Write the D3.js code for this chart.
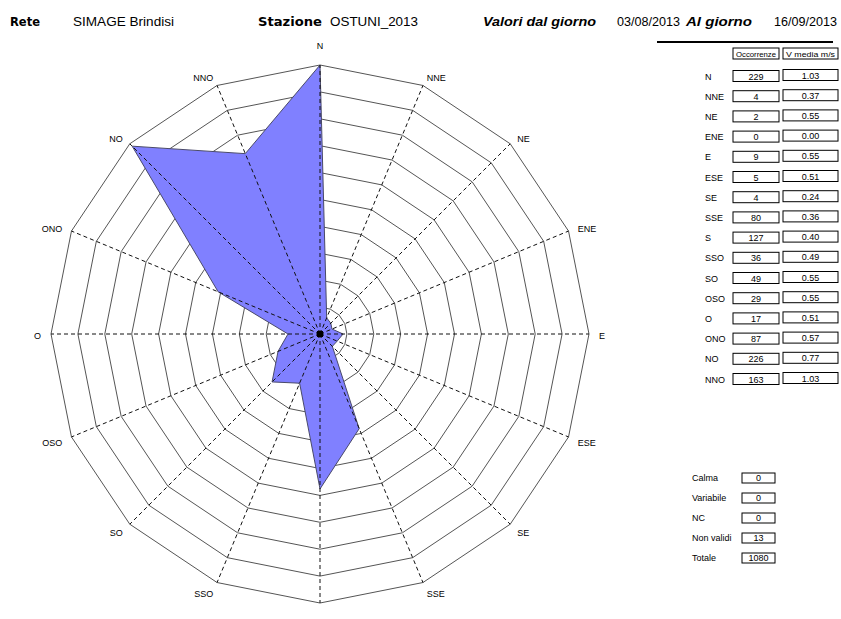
<!DOCTYPE html>
<html>
<head>
<meta charset="utf-8">
<script src="https://cdn.jsdelivr.net/npm/d3@7"></script>
<style>
body { margin: 0; background: #fff; }
svg { font-family: "Liberation Sans", Arial, sans-serif; }
</style>
</head>
<body>
<svg id="chart" width="841" height="619"></svg>
<script>
// data
const directions = ['N', 'NNE', 'NE', 'ENE', 'E', 'ESE', 'SE', 'SSE', 'S', 'SSO', 'SO', 'OSO', 'O', 'ONO', 'NO', 'NNO'];
const occorrenze = [229, 4, 2, 0, 9, 5, 4, 80, 127, 36, 49, 29, 17, 87, 226, 163];
const velocita = ['1.03', '0.37', '0.55', '0.00', '0.55', '0.51', '0.24', '0.36', '0.40', '0.49', '0.55', '0.55', '0.51', '0.57', '0.77', '1.03'];
const summaryLabels = ['Calma', 'Variabile', 'NC', 'Non validi', 'Totale'];
const summaryValues = [0, 0, 0, 13, 1080];
const ringCount = 10;

const svg = d3.select('#chart');
const cx = 320, cy = 334, R = 269;

/* HEADER */
// [text, x, width, style]
const headerItems = [
	['Rete', 10, 30, 'b'],
	['SIMAGE Brindisi', 73, 101, 'r'],
	['Stazione', 258, 64, 'b'],
	['OSTUNI_2013', 330, 88, 'r'],
	['Valori dal giorno', 483, 113, 'bi'],
	['03/08/2013', 617, 63, 'r'],
	['Al giorno', 686, 66, 'bi'],
	['16/09/2013', 774, 63, 'r']
];
svg.append('g').selectAll('text')
	.data(headerItems)
	.enter()
	.append('text')
	.attr('x', d => d[1])
	.attr('y', 26)
	.attr('textLength', d => d[2])
	.attr('lengthAdjust', 'spacingAndGlyphs')
	.attr('font-size', d => d[3] === 'b' ? 12.5 : 12.5)
	.attr('font-family', d => d[3] === 'b' ? '"DejaVu Sans", sans-serif' : null)
	.attr('font-weight', d => d[3] === 'r' ? 'normal' : 'bold')
	.attr('font-style', d => d[3] === 'bi' ? 'italic' : 'normal')
	.text(d => d[0]);
svg.append('line').attr('x1', 657).attr('x2', 833).attr('y1', 42).attr('y2', 42)
	.attr('stroke', '#000').attr('stroke-width', 2);

/* SCALES */
// the reference plots values from a small inner offset out to the outer ring
const rScale = d3.scaleLinear().domain([0, d3.max(occorrenze)]).range([13, R]);
const ringScale = d3.scaleLinear().domain([0, ringCount]).range([0, R]);
const aScale = d3.scaleLinear().domain([0, directions.length]).range([0, 2 * Math.PI]);
const rose = svg.append('g').attr('transform', `translate(${cx},${cy})`);

/* RINGS */
const ringLine = d3.lineRadial().curve(d3.curveLinearClosed);
rose.selectAll('path.ring')
	.data(d3.range(1, ringCount + 1))
	.enter()
	.append('path')
	.attr('class', 'ring')
	.attr('d', k => ringLine(directions.map((d, i) => [aScale(i), ringScale(k)])))
	.attr('fill', 'none')
	.attr('stroke', '#555')
	.attr('stroke-width', 1);

/* ROSE POLYGON */
const roseLine = d3.lineRadial()
	.angle((d, i) => aScale(i))
	.radius(d => rScale(d))
	.curve(d3.curveLinearClosed);
rose.append('path')
	.attr('d', roseLine(occorrenze))
	.attr('fill', '#8080ff')
	.attr('stroke', '#4a4a6a')
	.attr('stroke-width', 1);

/* SPOKES */
rose.selectAll('line.spoke')
	.data(directions)
	.enter()
	.append('line')
	.attr('x1', 0).attr('y1', 0)
	.attr('x2', (d, i) => R * Math.sin(aScale(i)))
	.attr('y2', (d, i) => -R * Math.cos(aScale(i)))
	.attr('stroke', '#111')
	.attr('stroke-dasharray', '4,3');

rose.append('rect').attr('x', -3).attr('y', -3).attr('width', 6).attr('height', 6).attr('fill', '#000');

/* DIRECTION LABELS */
const side = i => Math.sin(aScale(i));
rose.selectAll('text.dir')
	.data(directions)
	.enter()
	.append('text')
	.attr('x', (d, i) => Math.abs(side(i)) < 0.01 ? 0 : (R + 10) * side(i))
	.attr('y', (d, i) => Math.abs(side(i)) < 0.01
		? -(R + 19) * Math.cos(aScale(i))
		: -(R + 10) * Math.cos(aScale(i)) + 2)
	.attr('dy', '0.35em')
	.attr('text-anchor', (d, i) => Math.abs(side(i)) < 0.01 ? 'middle' : (side(i) > 0 ? 'start' : 'end'))
	.attr('font-size', 9)
	.text(d => d);

/* TABLE */
const table = svg.append('g').attr('font-size', 9);
const rowY = d3.scaleLinear().domain([0, directions.length - 1]).range([76, 379]);
table.append('rect').attr('x', 733).attr('y', 48).attr('width', 46).attr('height', 11).attr('fill', 'none').attr('stroke', '#000');
table.append('rect').attr('x', 783).attr('y', 48).attr('width', 55).attr('height', 11).attr('fill', 'none').attr('stroke', '#000');
table.append('text').attr('x', 756).attr('y', 56.5).attr('text-anchor', 'middle').attr('font-size', 7)
	.attr('textLength', 40).attr('lengthAdjust', 'spacingAndGlyphs').text('Occorrenze');
table.append('text').attr('x', 810.5).attr('y', 56.5).attr('text-anchor', 'middle').attr('font-size', 7)
	.attr('textLength', 49).attr('lengthAdjust', 'spacingAndGlyphs').text('V media m/s');

const rows = table.selectAll('g.row')
	.data(directions)
	.enter()
	.append('g')
	.attr('transform', (d, i) => `translate(0,${rowY(i)})`);
rows.append('text').attr('x', 705).attr('y', 3.5).text(d => d);
rows.append('rect').attr('x', 733).attr('y', -5.5).attr('width', 46).attr('height', 11)
	.attr('fill', 'none').attr('stroke', '#000');
rows.append('rect').attr('x', 783).attr('y', -6.5).attr('width', 55).attr('height', 11)
	.attr('fill', 'none').attr('stroke', '#000');
rows.append('text').attr('x', 756).attr('y', 3.5).attr('text-anchor', 'middle').text((d, i) => occorrenze[i]);
rows.append('text').attr('x', 810.5).attr('y', 2.5).attr('text-anchor', 'middle').text((d, i) => velocita[i]);

/* SUMMARY */
const sumY = d3.scaleLinear().domain([0, summaryLabels.length - 1]).range([478, 558]);
const sums = table.selectAll('g.sum')
	.data(summaryLabels)
	.enter()
	.append('g')
	.attr('transform', (d, i) => `translate(0,${sumY(i)})`);
sums.append('text').attr('x', 692).attr('y', 3).text(d => d);
sums.append('rect').attr('x', 742).attr('y', -5).attr('width', 33).attr('height', 10)
	.attr('fill', 'none').attr('stroke', '#000');
sums.append('text').attr('x', 758.5).attr('y', 3).attr('text-anchor', 'middle').text((d, i) => summaryValues[i]);
</script>
</body>
</html>
